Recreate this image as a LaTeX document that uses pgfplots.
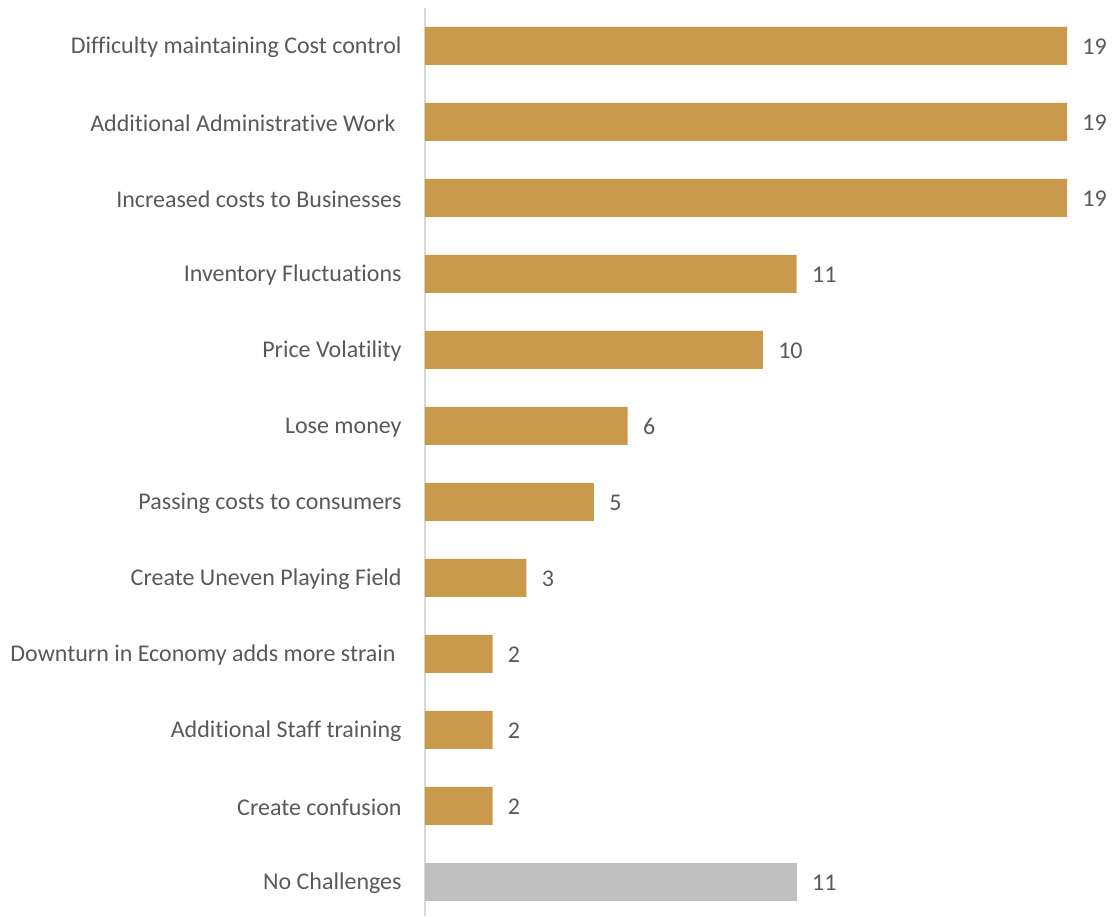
\documentclass[border=0pt]{standalone}
\usepackage{pgfplots}
\pgfplotsset{compat=1.18}
\usepackage{fontspec}
\setmainfont{Carlito}[Ligatures=NoCommon]
\definecolor{gold}{HTML}{C99A4C}
\definecolor{greybar}{HTML}{BFBFBF}
\definecolor{txt}{HTML}{595959}
\definecolor{axisline}{HTML}{D9D9D9}
\begin{document}
\begin{tikzpicture}
\begin{axis}[
  scale only axis,
  width=321pt, height=454.1pt,
  xmin=0, xmax=19,
  ymin=-0.5, ymax=11.45,
  y dir=reverse,
  xbar, bar width=19pt, bar shift=0pt,
  hide x axis,
  axis y line*=left,
  y axis line style={axisline, line width=1pt},
  ytick={0,...,11},
  yticklabels={Difficulty maintaining Cost control, {Additional Administrative Work\kern3pt\null}, Increased costs to Businesses, Inventory Fluctuations, Price Volatility, Lose money, Passing costs to consumers, Create Uneven Playing Field, {Downturn in Economy adds more strain\kern3pt\null}, Additional Staff training, Create confusion, No Challenges},
  major tick length=0pt,
  yticklabel style={font=\fontsize{12}{14}\selectfont, text=txt, inner sep=0pt, anchor=east, xshift=-11.5pt, yshift=-0.8pt},
  /pgf/number format/assume math mode=true,
  nodes near coords,
  nodes near coords style={font=\fontsize{12}{14}\selectfont, text=txt, inner sep=0pt, anchor=west, xshift=7.5pt, yshift=-0.5pt},
  clip=false,
]
\addplot[fill=gold, draw=none] coordinates {(19,0) (19,1) (19,2) (11,3) (10,4) (6,5) (5,6) (3,7) (2,8) (2,9) (2,10)};
\addplot[fill=greybar, draw=none] coordinates {(11,11)};
\end{axis}
\pgfresetboundingbox
\path (current axis.south west) ++(-212.5pt,0) rectangle ++(557pt,458pt);
\end{tikzpicture}
\end{document}
